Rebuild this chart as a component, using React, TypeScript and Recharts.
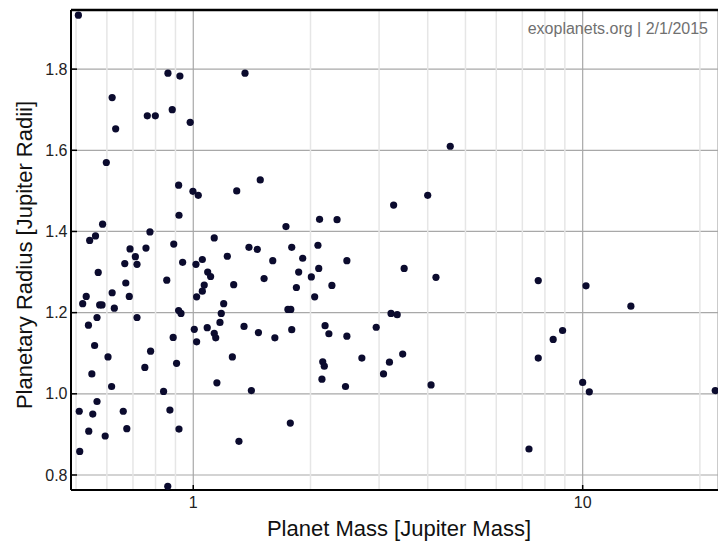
import React from "react";
import {
  ScatterChart,
  Scatter,
  XAxis,
  YAxis,
  CartesianGrid,
  ReferenceLine,
} from "recharts";

// [mass (Jupiter masses), radius (Jupiter radii)]
const inflatedPlanets: [number, number][] = [
  [0.507, 1.933], [0.619, 1.73], [0.632, 1.653], [0.598, 1.57],
  [0.762, 1.685], [0.799, 1.685], [0.861, 1.79], [0.924, 1.783],
  [0.883, 1.7], [0.982, 1.669], [0.917, 1.514], [0.998, 1.499],
  [1.03, 1.489], [1.293, 1.5], [1.358, 1.79], [4.57, 1.61], [1.486, 1.527],
];

const lightPlanets: [number, number][] = [
  [0.919, 1.44], [0.585, 1.418], [0.542, 1.378], [0.561, 1.389],
  [0.774, 1.399], [0.891, 1.369], [0.688, 1.357], [0.756, 1.359],
  [1.132, 1.384], [0.71, 1.338], [0.667, 1.321], [0.717, 1.319],
  [0.939, 1.324], [1.055, 1.331], [1.016, 1.319], [1.223, 1.339],
  [0.57, 1.299], [1.089, 1.3], [1.108, 1.289], [0.619, 1.249],
  [0.671, 1.273], [0.685, 1.24], [0.855, 1.28], [1.067, 1.268],
  [1.055, 1.253], [1.02, 1.239], [1.197, 1.222], [0.52, 1.222],
  [0.531, 1.24], [0.575, 1.219], [0.583, 1.219], [0.627, 1.211],
  [0.917, 1.205], [0.93, 1.198], [1.18, 1.198], [0.566, 1.188],
  [0.717, 1.188], [0.538, 1.169], [1.086, 1.163], [1.171, 1.176],
  [1.132, 1.149], [1.142, 1.138], [1.006, 1.159], [1.02, 1.128],
  [0.888, 1.139], [0.558, 1.119], [0.604, 1.091], [0.777, 1.105],
  [0.751, 1.065], [0.906, 1.075], [0.549, 1.049],
];

const compactPlanets: [number, number][] = [
  [0.5095, 0.957], [0.511, 0.858], [0.539, 0.908], [0.552, 0.95],
  [0.566, 0.981], [0.594, 0.896], [0.617, 1.018], [0.661, 0.957],
  [0.675, 0.914], [0.839, 1.006], [0.871, 0.96], [0.919, 0.913],
  [0.86, 0.772], [1.15, 1.027],
];

const midMassPlanets: [number, number][] = [
  [4.0, 1.489], [3.27, 1.465], [2.11, 1.43], [2.34, 1.429], [1.73, 1.412],
  [1.39, 1.361], [1.46, 1.356], [1.79, 1.361], [2.09, 1.366], [1.6, 1.328],
  [1.91, 1.334], [2.48, 1.328], [3.48, 1.309], [1.865, 1.3], [2.1, 1.309],
  [2.01, 1.288], [1.52, 1.284], [4.2, 1.287], [1.27, 1.269], [1.84, 1.262],
  [2.27, 1.267], [2.05, 1.239], [1.75, 1.208], [1.78, 1.208], [3.22, 1.198],
  [3.34, 1.195], [1.35, 1.166], [1.47, 1.151], [1.62, 1.138], [1.79, 1.158],
  [2.18, 1.168], [2.23, 1.148], [2.48, 1.142], [2.95, 1.164], [1.26, 1.091],
  [2.15, 1.079], [2.17, 1.068], [2.71, 1.088], [3.19, 1.078], [3.45, 1.098],
  [3.08, 1.049], [2.14, 1.036], [2.46, 1.018], [4.08, 1.022], [1.41, 1.008],
  [1.31, 0.883], [1.775, 0.928],
];

const heavyPlanets: [number, number][] = [
  [7.69, 1.279], [10.2, 1.266], [13.3, 1.216], [8.88, 1.156], [8.4, 1.134],
  [7.69, 1.088], [10.0, 1.028], [10.4, 1.005], [21.9, 1.008], [7.28, 0.864],
];

const xTicks = [1, 10];
const xMinorLines = [0.5, 0.6, 0.7, 0.8, 0.9, 2, 3, 4, 5, 6, 7, 8, 9, 20];
const yTicks = [0.8, 1.0, 1.2, 1.4, 1.6, 1.8];
const xDomain = [0.4853, 22.26];
const yDomain = [0.763, 1.9457];

const points = [
  ...inflatedPlanets,
  ...lightPlanets,
  ...compactPlanets,
  ...midMassPlanets,
  ...heavyPlanets,
].map(([mass, radius]) => ({ mass, radius }));

const FONT = "'Liberation Sans', Arial, sans-serif";

const titleText =
  (text: string, x: number, y: number, angle = 0) =>
  () => (
    <text
      x={x}
      y={y}
      textAnchor="middle"
      fontSize={22}
      fontFamily={FONT}
      fill="#111"
      transform={angle ? `rotate(${angle} ${x} ${y})` : undefined}
    >
      {text}
    </text>
  );

const Dot = (props: any) => (
  <circle cx={props.cx} cy={props.cy} r={3.6} fill="#0b0b2e" />
);

export default function App() {
  return (
    <div style={{ position: "absolute", left: 0, top: 0, width: 718, height: 542, background: "#fff" }}>
      <ScatterChart
        width={718}
        height={542}
        margin={{ top: 10, right: 0, bottom: 0, left: 0 }}
        style={{ fontFamily: FONT }}
      >
        <CartesianGrid
          horizontal={true}
          vertical={true}
          stroke="#a8a8a8"
          strokeWidth={1.2}
        />
        {xMinorLines.map((v) => (
          <ReferenceLine key={v} x={v} stroke="#e6e6e6" strokeWidth={1.5} />
        ))}
        <ReferenceLine y={yDomain[1]} stroke="#000" strokeWidth={2.5} />
        <XAxis
          dataKey="mass"
          type="number"
          scale="log"
          domain={xDomain}
          allowDataOverflow
          ticks={xTicks}
          height={52}
          tick={{ fontSize: 16, fill: "#222", fontFamily: FONT }}
          tickLine={{ stroke: "#000", strokeWidth: 1.5 }}
          tickSize={-5}
          tickMargin={12}
          axisLine={{ stroke: "#000", strokeWidth: 2 }}
          label={titleText("Planet Mass [Jupiter Mass]", 399, 536)}
        />
        <YAxis
          dataKey="radius"
          type="number"
          domain={yDomain}
          allowDataOverflow
          ticks={yTicks}
          width={71}
          tickFormatter={(v: number) => v.toFixed(1)}
          tick={{ fontSize: 16, fill: "#222", fontFamily: FONT }}
          tickLine={{ stroke: "#000", strokeWidth: 1.5 }}
          tickSize={-6}
          tickMargin={9.5}
          axisLine={{ stroke: "#000", strokeWidth: 2 }}
          label={titleText("Planetary Radius [Jupiter Radii]", 32, 255, -90)}
        />
        <Scatter data={points} shape={Dot} isAnimationActive={false} />
      </ScatterChart>
      <svg
        width={718}
        height={542}
        style={{ position: "absolute", left: 0, top: 0, pointerEvents: "none" }}
      >
        <text x={708} y={34} textAnchor="end" fontSize={16} fontFamily={FONT} fill="#707070">
          exoplanets.org | 2/1/2015
        </text>
      </svg>
    </div>
  );
}
